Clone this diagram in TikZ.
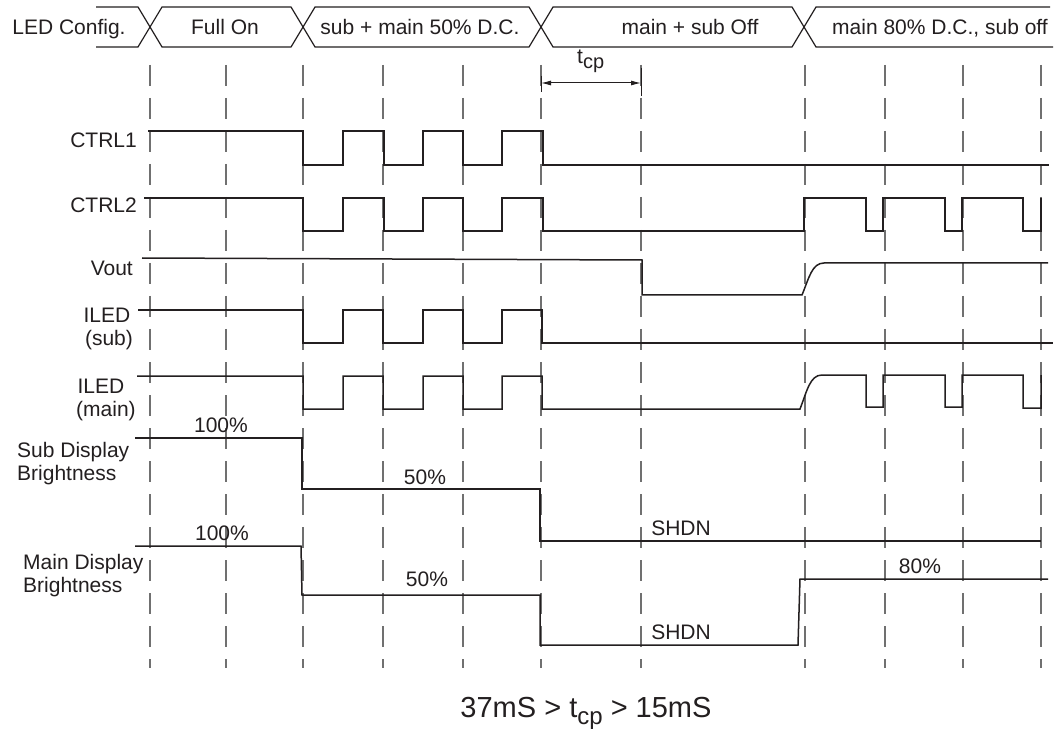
\documentclass[tikz,border=0pt]{standalone}
\usepackage{fontspec}
\setmainfont{Liberation Sans}
\usetikzlibrary{arrows.meta}
\definecolor{ink}{HTML}{231F20}
\definecolor{grid}{HTML}{707070}
\tikzset{
  wave/.style={draw=ink, line width=1.5pt, line join=miter},
  bus/.style={draw=ink, line width=1.2pt},
  gridline/.style={draw=grid, line width=1.1pt, dash pattern=on 21pt off 12pt},
  lbl/.style={inner sep=0pt, text=ink, font=\fontsize{21}{24}\selectfont},
  big/.style={inner sep=0pt, text=ink, font=\fontsize{29}{32}\selectfont}
}
\begin{document}
\begin{tikzpicture}[x=1pt,y=-1pt]
\useasboundingbox (0,0) rectangle (1061,730);
\fill[white] (0,0) rectangle (1061,730);

% ---- bus (LED Config.) ----
\draw[bus] (96,7) -- (138,7) -- (162,47) -- (291,47) -- (315,7) -- (529,7) -- (553,47) -- (792,47) -- (816,7) -- (1050,7);
\draw[bus] (96,47) -- (138,47) -- (162,7) -- (291,7) -- (315,47) -- (529,47) -- (553,7) -- (792,7) -- (816,47) -- (1053,47);
\node[lbl, anchor=base] (cfg) at (69,34.5) {LED Config.};
\node[lbl, anchor=base] (full) at (225,34.5) {Full On};
\node[lbl, anchor=base] (half) at (420,34.5) {sub + main 50\% D.C.};
\node[lbl, anchor=base] (off) at (690,34.5) {main + sub Off};
\node[lbl, anchor=base] (eighty) at (940,34.5) {main 80\% D.C., sub off};

% ---- dashed grid ----
\foreach \gx in {150,226,303,383,463,541,641,805,885,963,1041}
  \draw[gridline] (\gx,65) -- (\gx,668);

% ---- t_cp arrow ----
\coordinate (ta) at (541,83);
\coordinate (tb) at (641,83);
\draw[ink, line width=1pt] (541,76) -- (541,92);
\draw[ink, line width=1pt] (641,68) -- (641,96);
\draw[ink, line width=1pt, {Latex[length=10pt,width=5pt]}-{Latex[length=10pt,width=5pt]}] (ta) -- (tb);
\node[lbl, anchor=base west] (tcp) at (577,64) {t\raisebox{-5pt}{\fontsize{20}{20}\selectfont cp}};

% ---- signal labels ----
\node[lbl, anchor=base east] (l1) at (137,147.5) {CTRL1};
\node[lbl, anchor=base east] (l2) at (137,212.5) {CTRL2};
\node[lbl, anchor=base east] (l3) at (133,275.5) {Vout};
\node[lbl, anchor=base] (l4a) at (107,322.5) {ILED};
\node[lbl, anchor=base] (l4b) at (109,345.5) {(sub)};
\node[lbl, anchor=base] (l5a) at (101,393.5) {ILED};
\node[lbl, anchor=base] (l5b) at (106,416.5) {(main)};
\node[lbl, anchor=base west] (l6a) at (17,457.5) {Sub Display};
\node[lbl, anchor=base west] (l6b) at (17,480.5) {Brightness};
\node[lbl, anchor=base west] (l7a) at (23,569.5) {Main Display};
\node[lbl, anchor=base west] (l7b) at (23,592.5) {Brightness};

% ---- CTRL1 ----
\draw[wave] (148,131) -- (303,131) -- (303,165) -- (343,165) -- (343,131) -- (384,131) -- (384,165) -- (423,165) -- (423,131) -- (463,131) -- (463,165) -- (502,165) -- (502,131) -- (543,131) -- (543,165) -- (1049,165);

% ---- CTRL2 ----
\draw[wave] (144,198) -- (303,198) -- (303,231) -- (343,231) -- (343,198) -- (384,198) -- (384,231) -- (423,231) -- (423,198) -- (463,198) -- (463,231) -- (502,231) -- (502,198) -- (543,198) -- (543,231) -- (804,231) -- (804,198) -- (866,198) -- (866,231) -- (883,231) -- (883,198) -- (945,198) -- (945,231) -- (962,231) -- (962,198) -- (1023,198) -- (1023,231) -- (1041,231) -- (1041,198);

% ---- Vout ----
\draw[wave] (142,258) -- (642,260) -- (642,295) -- (802,295) .. controls (809,278) and (812,263) .. (824,263) -- (1048,263);

% ---- ILED (sub) ----
\draw[wave] (138,310) -- (303,310) -- (303,343) -- (343,343) -- (343,310) -- (383,310) -- (383,343) -- (423,343) -- (423,310) -- (463,310) -- (463,343) -- (502,343) -- (502,310) -- (542,310) -- (542,343) -- (1053,343);

% ---- ILED (main) ----
\draw[wave] (137,376) -- (303,376) -- (303,409) -- (343,409) -- (343,376) -- (383,376) -- (383,409) -- (423,409) -- (423,376) -- (463,376) -- (463,409) -- (502,409) -- (502,376) -- (542,376) -- (542,409) -- (800,409) .. controls (807,391) and (810,375) .. (822,375) -- (866,375) -- (866,407) -- (883,407) -- (883,375) -- (945,375) -- (945,407) -- (962,407) -- (962,375) -- (1023,375) -- (1023,408) -- (1041,408) -- (1041,375);

% ---- Sub display brightness ----
\draw[wave] (135,438) -- (302,438) -- (302,489) -- (540,489) -- (540,541) -- (1041,541);
\node[lbl, anchor=base] (s100) at (221,432.5) {100\%};
\node[lbl, anchor=base] (s50) at (425,484.5) {50\%};
\node[lbl, anchor=base] (sshdn) at (681,535.5) {SHDN};

% ---- Main display brightness ----
\draw[wave] (135,546) -- (301,546) -- (302,595) -- (540,595) -- (540,645) -- (798,645) -- (800,579) -- (1048,579);
\node[lbl, anchor=base] (m100) at (222,540.5) {100\%};
\node[lbl, anchor=base] (m50) at (427,586.5) {50\%};
\node[lbl, anchor=base] (mshdn) at (681,639.5) {SHDN};
\node[lbl, anchor=base] (m80) at (920,573.5) {80\%};

% ---- bottom note ----
\node[big, anchor=base] (note) at (586,717) {37mS > t\raisebox{-7pt}{\fontsize{24}{24}\selectfont cp} > 15mS};
\end{tikzpicture}
\end{document}
